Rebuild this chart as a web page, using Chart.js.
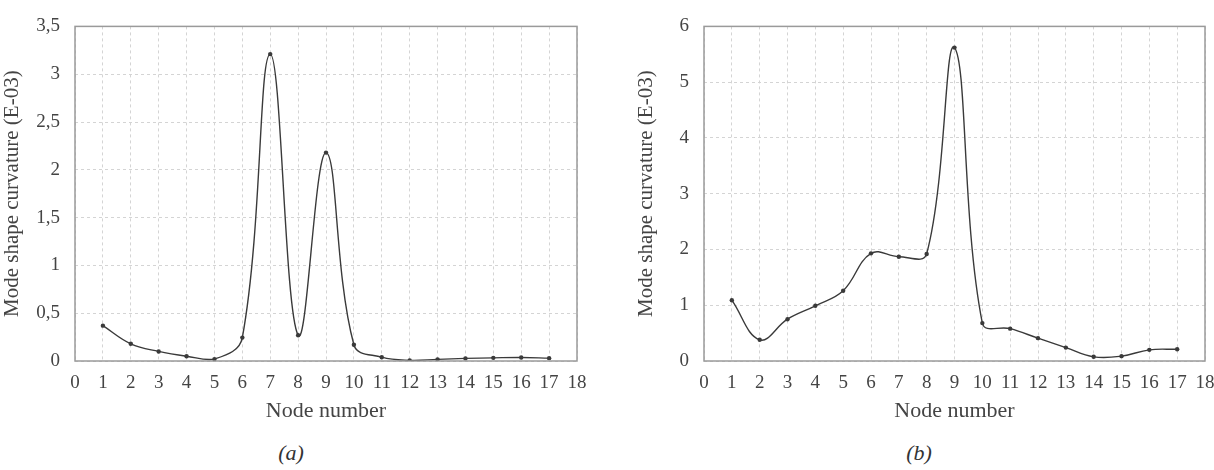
<!DOCTYPE html>
<html>
<head>
<meta charset="utf-8">
<script src="https://cdn.jsdelivr.net/npm/chart.js@4"></script>
<style>
  html, body { margin: 0; padding: 0; background: #fff; overflow: hidden; width: 1214px; height: 470px; }
  .wrap { position: absolute; top: 0; height: 424px; }
  .cap { position: absolute; top: 440px; font-family: 'Liberation Serif', serif; font-style: italic; font-size: 22px; color: #333; transform: translateX(-50%); }
</style>
</head>
<body>
<div class="wrap" style="left:0; width:600px;"><canvas id="chart-a"></canvas></div>
<div class="wrap" style="left:634px; width:606px;"><canvas id="chart-b"></canvas></div>
<div class="cap" style="left:291px;">(a)</div>
<div class="cap" style="left:919px;">(b)</div>
<script>
var nodes = [1, 2, 3, 4, 5, 6, 7, 8, 9, 10, 11, 12, 13, 14, 15, 16, 17];
var curvatureA = [0.37, 0.18, 0.10, 0.05, 0.02, 0.245, 3.21, 0.27, 2.18, 0.17, 0.04, 0.007, 0.017, 0.027, 0.033, 0.037, 0.03];
var curvatureB = [1.09, 0.38, 0.75, 0.99, 1.26, 1.93, 1.87, 1.92, 5.62, 0.68, 0.58, 0.41, 0.24, 0.075, 0.087, 0.20, 0.21];
var yMaxA = 3.5, yStepA = 0.5;
var yMaxB = 6, yStepB = 1;

var ink = '#3a3a3a';
var gridColor = '#d4d4d4';

// draws the full box round the plot area
var frame = {
    id: 'frame',
    afterDraw: function (chart) {
        var a = chart.chartArea, c = chart.ctx;
        c.save();
        c.strokeStyle = '#9a9a9a';
        c.lineWidth = 1.5;
        c.strokeRect(a.left, a.top, a.right - a.left, a.bottom - a.top);
        c.restore();
    }
};

function makeChart(id, values, yMax, yStep, yWidth, padRight) {
    var ctx = document.getElementById(id).getContext('2d');
    return new Chart(ctx, {
        type: 'line',
        data: {
            datasets: [{
                data: nodes.map(function (n, i) { return { x: n, y: values[i] }; }),
                borderColor: ink,
                backgroundColor: ink,
                borderWidth: 1.4,
                pointRadius: 2.2,
                pointBorderWidth: 0,
                tension: 0.4,
                fill: false
            }]
        },
        plugins: [frame],
        options: {
            responsive: true,
            maintainAspectRatio: false,
            animation: false,
            layout: { padding: { top: 14, right: padRight, left: 0, bottom: 0 } },
            plugins: { legend: { display: false }, tooltip: { enabled: false } },
            scales: {
                x: {
                    type: 'linear',
                    min: 0,
                    max: 18,
                    afterFit: function (s) { s.height = 63; },
                    ticks: {
                        stepSize: 1,
                        padding: 11,
                        color: '#444',
                        font: { family: 'Liberation Serif', size: 19 }
                    },
                    grid: { color: gridColor, drawTicks: false, lineWidth: 1 },
                    border: { display: false, dash: [3, 3] },
                    title: {
                        display: true,
                        text: 'Node number',
                        color: '#444',
                        padding: { top: 4, bottom: 0 },
                        font: { family: 'Liberation Serif', size: 22 }
                    }
                },
                y: {
                    min: 0,
                    max: yMax,
                    afterFit: function (s) { s.width = yWidth; },
                    ticks: {
                        stepSize: yStep,
                        padding: 15,
                        color: '#444',
                        font: { family: 'Liberation Serif', size: 19 },
                        callback: function (v) { return String(v).replace('.', ','); }
                    },
                    grid: { color: gridColor, drawTicks: false, lineWidth: 1 },
                    border: { display: false, dash: [3, 3] },
                    title: {
                        display: true,
                        text: 'Mode shape curvature (E-03)',
                        color: '#444',
                        padding: 0,
                        font: { family: 'Liberation Serif', size: 21 }
                    }
                }
            }
        }
    });
}

makeChart('chart-a', curvatureA, yMaxA, yStepA, 75, 23);
makeChart('chart-b', curvatureB, yMaxB, yStepB, 70, 35);
</script>
</body>
</html>
